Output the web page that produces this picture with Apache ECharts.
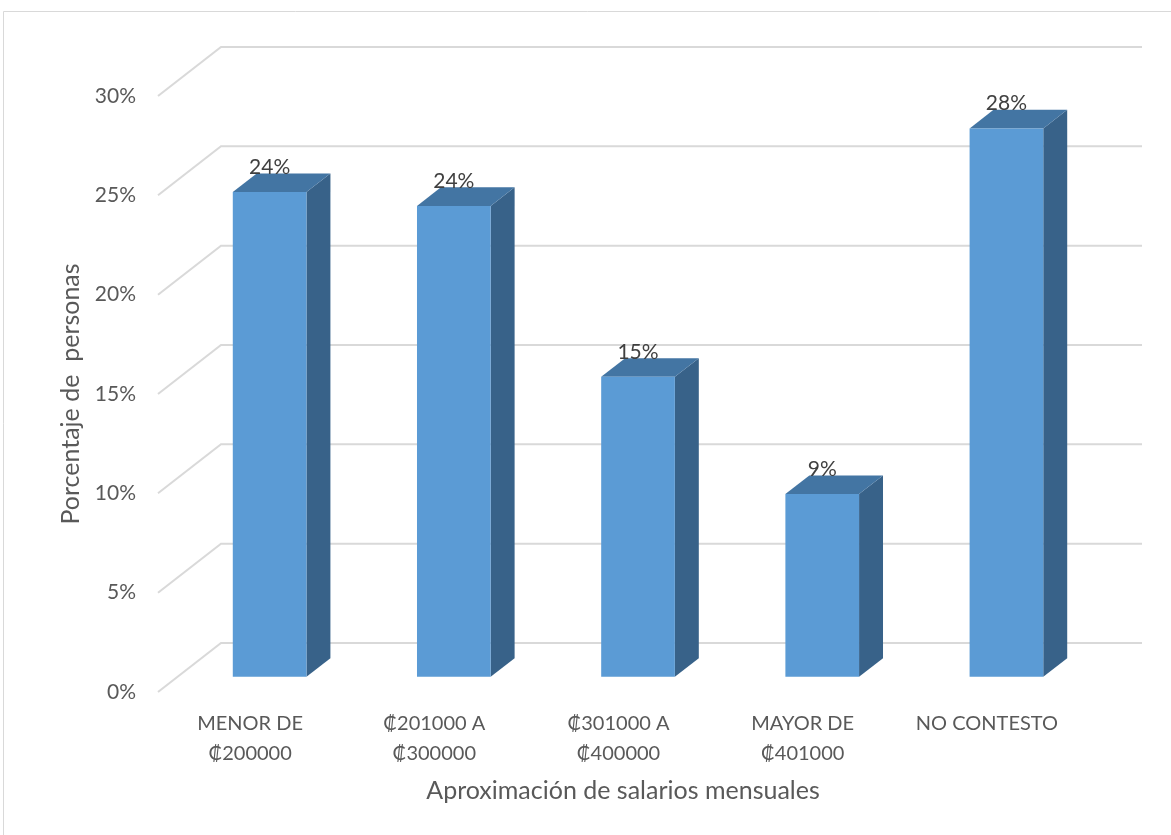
<!DOCTYPE html>
<html>
<head>
<meta charset="utf-8">
<title>Aproximación de salarios mensuales</title>
<script src="https://cdn.jsdelivr.net/npm/echarts@6/dist/echarts.min.js"></script>
<style>
  html, body { margin: 0; padding: 0; background: #ffffff; }
  #chart { width: 1171px; height: 835px; }
</style>
</head>
<body>
<div id="chart"></div>
<script>
// Salary bands and share of respondents (%)
const categories = ['MENOR DE\n₡200000', '₡201000 A\n₡300000', '₡301000 A\n₡400000', 'MAYOR DE\n₡401000', 'NO CONTESTO'];
const percentages = [24.4, 23.7, 15.1, 9.2, 27.6];
const yTicks = [0, 5, 10, 15, 20, 25, 30];

// Oblique projection: one full unit of depth moves a point by (DX, DY) pixels
const DX = 63, DY = -49;
const BAR_FRONT_DEPTH = 0.31;   // depth where the bar's front face sits
const BAR_DEPTH = 0.38;         // thickness of the bar along the depth axis
const BAR_WIDTH_RATIO = 0.4;    // share of the category band used by the bar

const FONT = 'Lato, "Noto Sans", "DejaVu Sans", sans-serif';

const chart = echarts.init(document.getElementById('chart'), null, { renderer: 'canvas' });

function renderWall(params, api) {
  const cs = params.coordSys;
  const y = api.coord([0, api.value(1)])[1];
  const x0 = cs.x;
  return {
    type: 'polyline',
    shape: { points: [[x0, y], [x0 + DX, y + DY], [x0 + cs.width + DX, y + DY]] },
    style: { stroke: '#d9d9d9', lineWidth: 2, fill: null },
    silent: true
  };
}

function renderBar(params, api) {
  const idx = api.value(0);
  const val = api.value(1);
  const top = api.coord([idx, val]);
  const bottom = api.coord([idx, 0]);
  const band = api.size([1, 0])[0];
  const w = band * BAR_WIDTH_RATIO;
  const ox = DX * BAR_FRONT_DEPTH, oy = DY * BAR_FRONT_DEPTH;
  const dx = DX * BAR_DEPTH, dy = DY * BAR_DEPTH;
  const cx = top[0] + ox;
  const xl = cx - w / 2, xr = cx + w / 2;
  const yt = top[1] + oy, yb = bottom[1] + oy;
  return {
    type: 'group',
    children: [
      {
        type: 'polygon',
        shape: { points: [[xr, yt], [xr + dx, yt + dy], [xr + dx, yb + dy], [xr, yb]] },
        style: { fill: '#386289' }
      },
      {
        type: 'polygon',
        shape: { points: [[xl, yt], [xl + dx, yt + dy], [xr + dx, yt + dy], [xr, yt]] },
        style: { fill: '#4375a3' }
      },
      {
        type: 'rect',
        shape: { x: xl, y: yt, width: w, height: yb - yt },
        style: { fill: '#5b9bd5' }
      },
      {
        type: 'text',
        x: cx,
        y: yt - 25,
        style: {
          text: Math.round(val) + '%',
          fill: '#404040',
          font: '21px ' + FONT,
          align: 'center',
          verticalAlign: 'middle'
        },
        z2: 10
      }
    ]
  };
}

const option = {
  backgroundColor: '#ffffff',
  animation: false,
  graphic: [{
    type: 'rect',
    shape: { x: 3.5, y: 11.5, width: 1300, height: 1000 },
    style: { fill: null, stroke: '#d9d9d9', lineWidth: 1 },
    silent: true,
    z: -10
  }],
  grid: { left: 158, right: 92, top: 96, bottom: 143 },
  xAxis: {
    type: 'category',
    data: categories,
    axisLine: { show: false },
    axisTick: { show: false },
    splitLine: { show: false },
    axisLabel: {
      interval: 0,
      margin: 17,
      color: '#595959',
      fontFamily: FONT,
      fontSize: 20,
      lineHeight: 30
    },
    name: 'Aproximación de salarios mensuales',
    nameLocation: 'middle',
    nameGap: 86,
    nameTextStyle: { color: '#595959', fontFamily: FONT, fontSize: 25, padding: [0, 0, 0, 9] }
  },
  yAxis: {
    type: 'value',
    min: 0,
    max: 30,
    interval: 5,
    axisLine: { show: false },
    axisTick: { show: false },
    splitLine: { show: false },
    axisLabel: {
      margin: 22,
      color: '#595959',
      fontFamily: FONT,
      fontSize: 21,
      formatter: v => v + '%'
    },
    name: 'Porcentaje de  personas',
    nameLocation: 'middle',
    nameGap: 74,
    nameRotate: 90,
    nameTextStyle: { color: '#595959', fontFamily: FONT, fontSize: 25 }
  },
  series: [
    {
      type: 'custom',
      name: 'walls',
      renderItem: renderWall,
      data: yTicks.map(t => [0, t]),
      silent: true,
      z: 1
    },
    {
      type: 'custom',
      name: 'Porcentaje',
      renderItem: renderBar,
      data: percentages.map((v, i) => [i, v]),
      z: 5
    }
  ]
};

chart.setOption(option);
</script>
</body>
</html>
